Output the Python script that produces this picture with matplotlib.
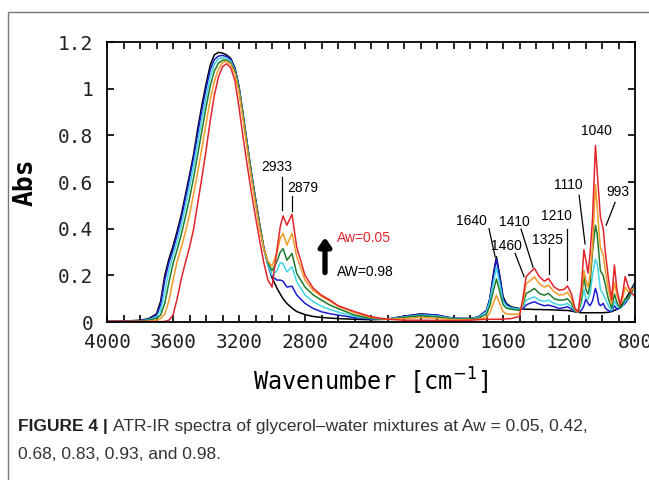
import matplotlib
matplotlib.use("Agg")
import matplotlib.pyplot as plt
from matplotlib.patches import Rectangle
from matplotlib.ticker import MultipleLocator

# wavenumber grid (cm-1) and absorbance for each Aw
wavenumber = [
    4000, 3900, 3800, 3750, 3700, 3675, 3650, 3625, 3600, 3575, 3550, 3525, 3500, 3475, 3450, 3425, 3400,
    3375, 3350, 3325, 3300, 3275, 3250, 3225, 3200, 3175, 3150, 3125, 3100, 3075, 3050, 3025, 3000,
    2970, 2950, 2933, 2910, 2879, 2850, 2800, 2750, 2700, 2650, 2600, 2500, 2400,
    2300, 2200, 2100, 2000, 1900, 1800, 1750, 1700, 1680, 1660, 1640, 1620, 1600, 1580, 1550, 1500,
    1480, 1460, 1440, 1410, 1380, 1350, 1325, 1290, 1260, 1230, 1210, 1185, 1165, 1145, 1125,
    1110, 1098, 1085, 1073, 1058, 1040, 1030, 1020, 1010, 993, 980, 962, 942, 925, 910, 890, 875, 860, 840, 820, 800,
]

abs_aw098 = [
    0.003, 0.004, 0.008, 0.014, 0.035, 0.09, 0.2, 0.27, 0.325, 0.39, 0.46, 0.545, 0.63, 0.72, 0.83, 0.93, 1.02,
    1.1, 1.145, 1.156, 1.153, 1.145, 1.13, 1.09, 1.01, 0.89, 0.765, 0.64, 0.53, 0.42, 0.32, 0.25, 0.19,
    0.145, 0.12, 0.1, 0.08, 0.06, 0.045, 0.032, 0.024, 0.02, 0.017, 0.015, 0.012, 0.01,
    0.012, 0.025, 0.035, 0.03, 0.016, 0.015, 0.022, 0.05, 0.1, 0.2, 0.28, 0.2, 0.11, 0.08, 0.065, 0.058,
    0.056, 0.055, 0.055, 0.054, 0.054, 0.053, 0.053, 0.052, 0.051, 0.05, 0.05, 0.047, 0.044, 0.042, 0.04,
    0.04, 0.04, 0.04, 0.04, 0.04, 0.04, 0.04, 0.04, 0.04, 0.04, 0.041, 0.042, 0.045, 0.05, 0.055, 0.065, 0.08, 0.095, 0.12, 0.145, 0.17,
]
abs_aw093 = [
    0.002, 0.003, 0.006, 0.012, 0.03, 0.075, 0.18, 0.255, 0.31, 0.375, 0.445, 0.53, 0.615, 0.705, 0.81, 0.91, 1.0,
    1.08, 1.125, 1.14, 1.143, 1.138, 1.125, 1.085, 1.005, 0.885, 0.76, 0.635, 0.525, 0.415, 0.315, 0.245, 0.195,
    0.18, 0.18, 0.175, 0.15, 0.154, 0.116, 0.08, 0.058, 0.044, 0.036, 0.03, 0.019, 0.013,
    0.013, 0.025, 0.034, 0.03, 0.016, 0.015, 0.022, 0.05, 0.1, 0.19, 0.27, 0.19, 0.1, 0.075, 0.062, 0.056,
    0.058, 0.073, 0.08, 0.087, 0.077, 0.07, 0.073, 0.066, 0.058, 0.062, 0.066, 0.055, 0.046, 0.042, 0.05,
    0.07, 0.1, 0.08, 0.07, 0.09, 0.144, 0.12, 0.08, 0.07, 0.08, 0.06, 0.05, 0.045, 0.07, 0.055, 0.06, 0.07, 0.08, 0.1, 0.13, 0.165,
]
abs_aw083 = [
    0.002, 0.003, 0.005, 0.01, 0.022, 0.05, 0.13, 0.22, 0.285, 0.345, 0.415, 0.495, 0.58, 0.67, 0.77, 0.87, 0.96,
    1.05, 1.105, 1.128, 1.133, 1.13, 1.118, 1.08, 1.0, 0.88, 0.755, 0.63, 0.52, 0.41, 0.315, 0.245, 0.2,
    0.22, 0.255, 0.25, 0.215, 0.237, 0.173, 0.116, 0.087, 0.068, 0.054, 0.043, 0.024, 0.015,
    0.013, 0.022, 0.03, 0.026, 0.015, 0.014, 0.02, 0.045, 0.09, 0.165, 0.235, 0.165, 0.09, 0.07, 0.06, 0.055,
    0.065, 0.094, 0.1, 0.108, 0.094, 0.088, 0.094, 0.08, 0.073, 0.075, 0.08, 0.065, 0.048, 0.042, 0.08,
    0.14, 0.1, 0.1, 0.12, 0.2, 0.27, 0.25, 0.2, 0.14, 0.12, 0.1, 0.07, 0.05, 0.09, 0.07, 0.06, 0.07, 0.09, 0.1, 0.13, 0.16,
]
abs_aw068 = [
    0.002, 0.002, 0.004, 0.008, 0.016, 0.03, 0.08, 0.17, 0.25, 0.31, 0.375, 0.45, 0.53, 0.62, 0.72, 0.82, 0.92,
    1.01, 1.075, 1.11, 1.122, 1.123, 1.11, 1.075, 0.995, 0.875, 0.75, 0.625, 0.515, 0.41, 0.32, 0.255, 0.22,
    0.26, 0.3, 0.315, 0.265, 0.294, 0.208, 0.15, 0.116, 0.094, 0.073, 0.058, 0.03, 0.016,
    0.012, 0.02, 0.027, 0.022, 0.013, 0.013, 0.016, 0.035, 0.07, 0.13, 0.185, 0.13, 0.075, 0.06, 0.055, 0.05,
    0.075, 0.123, 0.13, 0.144, 0.123, 0.115, 0.123, 0.1, 0.094, 0.095, 0.1, 0.08, 0.05, 0.042, 0.1,
    0.2, 0.14, 0.12, 0.16, 0.3, 0.415, 0.38, 0.3, 0.22, 0.2, 0.16, 0.1, 0.06, 0.12, 0.085, 0.06, 0.075, 0.1, 0.1, 0.13, 0.155,
]
abs_aw042 = [
    0.001, 0.001, 0.002, 0.004, 0.008, 0.015, 0.035, 0.09, 0.18, 0.26, 0.32, 0.385, 0.46, 0.55, 0.645, 0.745, 0.85,
    0.95, 1.03, 1.085, 1.112, 1.118, 1.105, 1.065, 0.985, 0.865, 0.74, 0.615, 0.505, 0.4, 0.315, 0.26, 0.24,
    0.3, 0.36, 0.38, 0.33, 0.38, 0.28, 0.18, 0.135, 0.11, 0.09, 0.068, 0.04, 0.02,
    0.012, 0.015, 0.02, 0.016, 0.01, 0.01, 0.012, 0.02, 0.04, 0.08, 0.115, 0.08, 0.045, 0.035, 0.033, 0.035,
    0.08, 0.165, 0.175, 0.194, 0.165, 0.15, 0.158, 0.13, 0.116, 0.118, 0.128, 0.1, 0.055, 0.042, 0.12,
    0.22, 0.18, 0.15, 0.2, 0.32, 0.59, 0.5, 0.4, 0.32, 0.29, 0.22, 0.14, 0.08, 0.17, 0.115, 0.075, 0.1, 0.15, 0.13, 0.14, 0.145,
]
abs_aw005 = [
    0.003, 0.004, 0.003, 0.002, 0.002, 0.002, 0.003, 0.008, 0.03, 0.1, 0.185, 0.255, 0.32, 0.4, 0.51, 0.62, 0.735,
    0.86, 0.97, 1.05, 1.095, 1.107, 1.09, 1.035, 0.92, 0.79, 0.67, 0.555, 0.45, 0.35, 0.255, 0.18, 0.15,
    0.31, 0.41, 0.455, 0.415, 0.462, 0.32, 0.2, 0.145, 0.115, 0.095, 0.07, 0.045, 0.023,
    0.012, 0.008, 0.008, 0.007, 0.006, 0.008, 0.01, 0.012, 0.012, 0.012, 0.012, 0.012, 0.013, 0.014, 0.015, 0.025,
    0.1, 0.195, 0.21, 0.23, 0.195, 0.175, 0.187, 0.15, 0.137, 0.14, 0.155, 0.12, 0.06, 0.044, 0.15,
    0.31, 0.265, 0.21, 0.29, 0.44, 0.757, 0.65, 0.55, 0.45, 0.4, 0.3, 0.19, 0.095, 0.245, 0.14, 0.075, 0.12, 0.195, 0.15, 0.125, 0.108,
]

series = [
    (abs_aw098, "black"),
    (abs_aw093, "#1c1ccf"),
    (abs_aw083, "#3fd6e6"),
    (abs_aw068, "#1f7a2e"),
    (abs_aw042, "#f39a26"),
    (abs_aw005, "#e3242b"),
]

# peak labels: text, text position, line start, line end
peaks = [
    ("2933", (2970, 0.665), (2940, 0.62), (2940, 0.48)),
    ("2879", (2812, 0.575), (2879, 0.54), (2879, 0.475)),
    ("1640", (1794, 0.432), (1685, 0.40), (1648, 0.28)),
    ("1460", (1582, 0.325), (1527, 0.295), (1473, 0.195)),
    ("1410", (1533, 0.428), (1491, 0.398), (1418, 0.235)),
    ("1325", (1333, 0.35), (1321, 0.317), (1321, 0.205)),
    ("1210", (1279, 0.454), (1212, 0.40), (1212, 0.18)),
    ("1110", (1206, 0.588), (1139, 0.543), (1103, 0.335)),
    ("1040", (1036, 0.817), None, None),
    ("993", (903, 0.556), (921, 0.513), (975, 0.415)),
]

mono = ["DejaVu Sans Mono"]
sans = ["Liberation Sans", "DejaVu Sans"]

fig = plt.figure(figsize=(6.49, 4.8), dpi=100)
ax = fig.add_axes([0.1649, 0.329, 0.8136, 0.5833])

for values, color in series:
    ax.plot(wavenumber, values, color=color, lw=1.1)

ax.set_xlim(4000, 800)
ax.set_ylim(0, 1.2)
ax.xaxis.set_major_locator(MultipleLocator(400))
ax.xaxis.set_minor_locator(MultipleLocator(100))
ax.tick_params(which="both", direction="in", top=True, right=True, length=5, width=1.2)
ax.tick_params(axis="x", pad=8)
ax.tick_params(axis="y", pad=10)
ax.set_yticks([0, 0.2, 0.4, 0.6, 0.8, 1.0, 1.2])
ax.set_yticklabels(["0", "0.2", "0.4", "0.6", "0.8", "1", "1.2"])
for lab in ax.get_xticklabels() + ax.get_yticklabels():
    lab.set_family(mono)
    lab.set_fontsize(14)
    lab.set_color("#222222")
for sp in ax.spines.values():
    sp.set_linewidth(1.3)

ax.set_xlabel(r"Wavenumber [cm$^{-1}$]", family=mono, fontsize=17, labelpad=10)
ax.set_ylabel("Abs", family=mono, fontsize=19, fontweight="bold", labelpad=14)

for text, txt_pos, p0, p1 in peaks:
    ax.text(txt_pos[0], txt_pos[1], text, ha="center", va="center", family=sans, fontsize=10)
    if p0 is not None:
        ax.plot([p0[0], p1[0]], [p0[1], p1[1]], color="black", lw=0.9)

ax.annotate("", xy=(2679, 0.375), xytext=(2679, 0.2),
            arrowprops=dict(arrowstyle="-|>,head_width=0.35,head_length=0.5", lw=3.8, color="black"))
ax.text(2606, 0.36, "Aw=0.05", color="#e3242b", family=sans, fontsize=10, va="center")
ax.text(2606, 0.214, "AW=0.98", color="black", family=sans, fontsize=10, va="center")

# outer frame of the figure panel
fig.add_artist(Rectangle((8 / 649, -0.1), 1.2, 1.1 - 12 / 480, transform=fig.transFigure,
                         fill=False, edgecolor="#777777", lw=1, clip_on=False))

cap1 = fig.text(18 / 649, 1 - 431 / 480, "FIGURE 4 | ", family=sans, fontsize=12.5,
                fontweight="bold", color="#222222")
ax.annotate("ATR-IR spectra of glycerol\u2013water mixtures at Aw = 0.05, 0.42,",
            xy=(1, 0), xycoords=cap1, va="bottom", family=sans, fontsize=12.5, color="#333333",
            annotation_clip=False)
fig.text(18 / 649, 1 - 459 / 480, "0.68, 0.83, 0.93, and 0.98.", family=sans, fontsize=12.5,
         color="#333333")

fig.savefig("out.png", dpi=100)
